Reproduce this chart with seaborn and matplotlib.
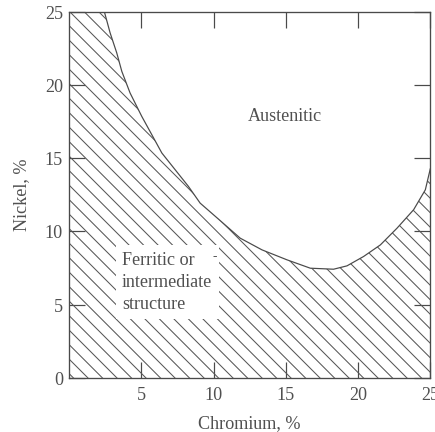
import numpy as np
import pandas as pd
import matplotlib
matplotlib.use("Agg")
import matplotlib.pyplot as plt
import seaborn as sns

# boundary between austenitic and ferritic regions
chromium = [0, 2.44, 2.84, 3.30, 3.65, 4.22, 5.03, 6.42, 8.26, 9.07, 10.5, 11.84,
            13.35, 15.08, 16.69, 18.30, 19.23, 20.38, 21.54, 22.69, 23.84, 24.65, 25.0]
nickel = [25, 25, 23.55, 22.18, 20.92, 19.45, 17.85, 15.35, 13.07, 11.93, 10.7, 9.54,
          8.74, 8.06, 7.49, 7.42, 7.65, 8.29, 9.08, 10.22, 11.48, 12.84, 14.3]

x_ticks = [5, 10, 15, 20, 25]
y_ticks = [0, 5, 10, 15, 20, 25]

sns.set_theme(style="ticks")
plt.rcParams["font.family"] = ["Liberation Serif", "DejaVu Serif"]
plt.rcParams["hatch.linewidth"] = 0.85

DPI = 87
fig = plt.figure(figsize=(435.4 / DPI, 432.4 / DPI), dpi=DPI)
ax = fig.add_axes([69 / 435, 54 / 432, 361 / 435, 366 / 432])

ink = "#4a4a4a"
txt = "#505050"

df = pd.DataFrame({"Chromium": chromium, "Nickel": nickel})

# hatched ferritic region below the boundary
ax.fill_between(df["Chromium"], 0, df["Nickel"], facecolor="none",
                edgecolor="#555555", hatch="\\\\", linewidth=0)

sns.lineplot(data=df.iloc[1:], x="Chromium", y="Nickel", ax=ax, sort=False,
             color=ink, linewidth=1.0)

ax.set_xlim(0, 25)
ax.set_ylim(0, 25)
ax.set_xticks(x_ticks)
ax.set_yticks(y_ticks)

for s in ax.spines.values():
    s.set_color(ink)
    s.set_linewidth(1.1)

ax.tick_params(direction="in", length=13.5, width=1.0, color=ink,
               top=True, right=True, labelsize=15, labelcolor=txt)
ax.tick_params(axis="x", pad=7.5)
ax.tick_params(axis="y", pad=5)

ax.set_xlabel("Chromium, %", fontsize=15, color=txt, labelpad=8.5)
ax.set_ylabel("Nickel, %", fontsize=15, color=txt, labelpad=12)

ax.text(14.9, 17.9, "Austenitic", fontsize=15, color=txt, ha="center", va="center")
ax.text(3.67, 6.56, "Ferritic or\nintermediate\nstructure", fontsize=15, color=txt,
        ha="left", va="center", linespacing=1.4,
        bbox=dict(boxstyle="square,pad=0.35", facecolor="white", edgecolor="none"))
ax.text(10.1, 8.25, "-", fontsize=11, color=txt, ha="center", va="center")

fig.savefig("out.png", dpi=DPI, facecolor="white")
